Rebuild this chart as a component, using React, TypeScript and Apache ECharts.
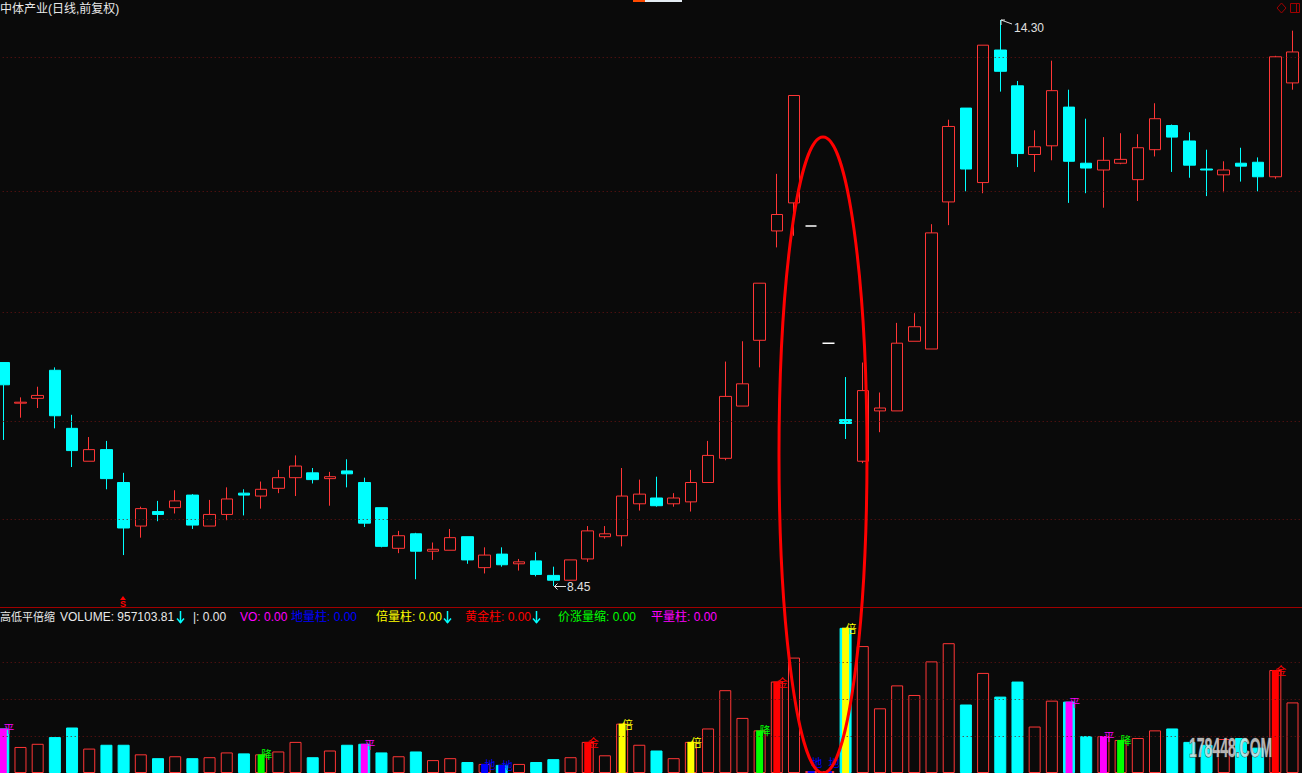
import React, { useEffect, useRef } from "react";
import * as echarts from "echarts";

const opens = [10.76,10.34,10.39,10.68,10.08,9.74,9.86,9.52,9.07,9.22, 9.26,9.39,9.07,9.19,9.41,9.38,9.46,9.57,9.62,9.56, 9.64,9.52,9.26,8.84,8.99,8.81,8.82,8.96,8.64,8.78, 8.68,8.71,8.56,8.51,8.73,8.96,8.97,9.30,9.36,9.30, 9.32,9.52,9.77,10.31,10.99,12.12,12.41,12.17,10.96,10.17, 9.74,10.26,10.26,10.98,10.90,12.42,13.39,12.62,13.99,13.62, 12.91,13.00,13.40,12.82,12.75,12.82,12.65,12.96,13.21,13.05, 12.76,12.70,12.82,12.83,12.68,13.65];
const closes = [10.53,10.35,10.42,10.21,9.85,9.86,9.56,9.05,9.25,9.19, 9.33,9.08,9.19,9.35,9.39,9.45,9.57,9.69,9.55,9.58, 9.61,9.10,8.86,8.97,8.81,8.83,8.95,8.72,8.77,8.67, 8.70,8.57,8.51,8.72,9.02,8.99,9.38,9.40,9.28,9.36, 9.52,9.80,10.41,10.54,11.58,12.29,13.52,12.17,10.96,10.13, 10.47,10.29,10.96,11.13,12.10,13.20,12.76,14.04,13.77,12.92, 12.99,13.57,12.84,12.77,12.85,12.86,12.98,13.28,13.09,12.80, 12.75,12.75,12.79,12.68,13.92,13.97];
const lows = [9.96,10.19,10.29,10.08,9.68,9.74,9.45,8.77,8.95,9.12, 9.20,9.04,9.07,9.13,9.18,9.25,9.41,9.38,9.51,9.28, 9.47,9.06,8.85,8.79,8.52,8.72,8.82,8.68,8.58,8.65, 8.61,8.55,8.45,8.51,8.70,8.94,8.86,9.23,9.27,9.27, 9.22,9.52,9.75,10.31,10.71,11.95,12.07,12.17,10.96,9.97, 9.72,10.04,10.26,10.98,10.90,12.18,12.53,12.51,13.56,12.78, 12.73,12.85,12.41,12.51,12.36,12.81,12.43,12.89,12.73,12.67, 12.48,12.52,12.63,12.53,12.66,13.58];
const highs = [10.76,10.40,10.51,10.71,10.22,9.99,9.95,9.62,9.27,9.33, 9.44,9.40,9.34,9.47,9.45,9.53,9.65,9.80,9.67,9.63, 9.76,9.57,9.26,9.02,9.00,8.90,9.04,8.96,8.85,8.85, 8.73,8.80,8.65,8.72,9.07,9.07,9.67,9.55,9.58,9.41, 9.65,9.95,10.77,10.98,11.58,12.71,13.52,12.17,10.96,10.61, 10.76,10.45,11.17,11.27,12.19,13.27,13.39,14.04,14.30,13.67, 13.16,13.88,13.58,13.28,13.09,13.13,13.12,13.44,13.22,13.14, 12.96,12.84,12.98,12.88,13.93,14.19];
const volumes = [604000,353000,396000,487000,617000,331000,383000,383000,253000,201000, 227000,201000,214000,279000,266000,253000,292000,422000,214000,305000, 383000,396000,279000,227000,292000,175000,201000,149000,123000,110000, 123000,149000,188000,214000,422000,240000,669000,383000,305000,201000, 422000,604000,1123000,747000,578000,1240000,1565000,26000,26000,1968000, 1721000,877000,1188000,1058000,1513000,1760000,929000,1357000,1036000,1240000, 630000,981000,968000,500000,500000,448000,474000,578000,604000,422000, 383000,461000,474000,344000,1396000,957103.81];
const flatDays = [47, 48];
const signalIdx = [0,15,21,28,29,34,36,40,44,45,47,48,49,62,64,65,74];
const signalType = ["平","降","平","地","地","金","倍","倍","降","金","地","地","倍","平","平","降","金"];
const priceGrid = [9.14, 10.15, 11.28, 12.53, 13.92];
const volumeGrid = [500000, 1000000, 1500000];
const days = opens.map((_, i) => "D" + (i + 1));

const signalColor: Record<string, string> = {
  "平": "#ff00ff", "降": "#00ff00", "地": "#0000ff", "金": "#ff0000", "倍": "#ffff00",
};

const FONT = '"Liberation Sans", "Noto Sans CJK SC", sans-serif';
const UP = "#ff3636";
const DOWN = "#00ffff";
const BG = "#0a0a0a";
const OFF = 6; // chart div is shifted left by this many pixels

function txt(x: number, y: number, text: string, fill: string, size = 12, extra: any = {}) {
  return {
    type: "text", x, y, z: 50,
    style: { text, fill, font: `${size}px ${FONT}`, textAlign: "left", align: "left", textVerticalAlign: "middle", verticalAlign: "middle", ...extra },
  };
}

function downArrow(x: number, color: string) {
  return [
    { type: "line", z: 50, shape: { x1: x, y1: 611, x2: x, y2: 623 }, style: { stroke: color, lineWidth: 1.5 } },
    { type: "polyline", z: 50, shape: { points: [[x - 3.5, 618.5], [x, 622.5], [x + 3.5, 618.5]] }, style: { fill: "none", stroke: color, lineWidth: 1.5 } },
  ];
}

export default function App() {
  const ref = useRef<HTMLDivElement>(null);
  useEffect(() => {
    const chart = echarts.init(ref.current!, null, { renderer: "svg" });
    const candleData = opens.map((o, i) => {
      const item: any = { value: [o, closes[i], lows[i], highs[i]] };
      if (flatDays.includes(i)) {
        item.itemStyle = { color: "#ffffff", color0: "#ffffff", borderColor: "#ffffff", borderColor0: "#ffffff", borderWidth: 1.5 };
      }
      return item;
    });
    const volData = volumes.map((v, i) => {
      const up = closes[i] >= opens[i];
      return {
        value: v,
        itemStyle: up
          ? { color: BG, borderColor: UP, borderWidth: 1 }
          : { color: DOWN, borderColor: DOWN, borderWidth: 1 },
      };
    });
    const sigData: any[] = volumes.map(() => "-");
    signalIdx.forEach((idx, k) => {
      const t = signalType[k];
      const c = signalColor[t];
      const tiny = volumes[idx] < 60000;
      sigData[idx] = {
        value: volumes[idx],
        itemStyle: { color: c },
        label: {
          show: true, formatter: t, color: c, fontSize: 11, fontFamily: '"Noto Sans CJK SC", sans-serif',
          position: [3.5, tiny ? -9 : 0], align: "left", verticalAlign: "middle",
        },
      };
    });

    const dotted = { color: "#6a1414", type: [1, 3], width: 1 };

    const gLeft = -5.3 + OFF;
    const option: any = {
      animation: false,
      backgroundColor: BG,
      grid: [
        { left: gLeft, width: 1306.4, top: 0, height: 608 },
        { left: gLeft, width: 1306.4, top: 625.5, height: 154 },
      ],
      xAxis: [
        { type: "category", gridIndex: 0, data: days, show: false },
        { type: "category", gridIndex: 1, data: days, show: false },
        { type: "category", gridIndex: 1, data: days, show: false },
      ],
      yAxis: [
        { type: "value", gridIndex: 0, min: 8.223, max: 14.507, show: false },
        { type: "value", gridIndex: 1, min: 0, max: 2000000, show: false },
      ],
      series: [
        {
          type: "candlestick", xAxisIndex: 0, yAxisIndex: 0, barWidth: 12, data: candleData,
          itemStyle: { color: BG, color0: DOWN, borderColor: UP, borderColor0: DOWN, borderWidth: 1 },
          markLine: {
            silent: true, symbol: ["none", "none"], label: { show: false }, lineStyle: dotted,
            data: priceGrid.map((v) => ({ yAxis: v })),
          },
        },
        {
          type: "bar", xAxisIndex: 1, yAxisIndex: 1, barWidth: 12, data: volData,
          markLine: {
            silent: true, symbol: ["none", "none"], label: { show: false }, lineStyle: dotted,
            data: volumeGrid.map((v) => ({ yAxis: v })),
          },
        },
        { type: "bar", xAxisIndex: 2, yAxisIndex: 1, barWidth: 7, data: sigData, z: 3 },
      ],
      graphic: {
        elements: [
          {
            type: "group", x: OFF, y: 0,
            children: [
              txt(0, 9, "中体产业(日线,前复权)", "#e8e8e8", 12),
              { type: "rect", z: 50, shape: { x: 642, y: -1, width: 40, height: 3 }, style: { fill: "#e4ebf2" } },
              { type: "rect", z: 50, shape: { x: 633, y: -1, width: 12, height: 3 }, style: { fill: "#ff4a00" } },
              { type: "polygon", z: 50, shape: { points: [[1281.5, 3], [1286, 8], [1281.5, 13], [1277, 8]] }, style: { fill: "none", stroke: "#a00000", lineWidth: 1 } },
              { type: "rect", z: 50, shape: { x: 1290.5, y: 3.5, width: 9, height: 9 }, style: { fill: "none", stroke: "#a00000", lineWidth: 1 } },
              { type: "line", z: 50, shape: { x1: 1296.5, y1: 3.5, x2: 1296.5, y2: 12.5 }, style: { stroke: "#a00000", lineWidth: 1 } },
              // high annotation
              { type: "polyline", z: 50, shape: { points: [[1001, 25], [1001, 20], [1005, 20]] }, style: { fill: "none", stroke: "#e0e0e0", lineWidth: 1 } },
              { type: "line", z: 50, shape: { x1: 1001, y1: 20, x2: 1012, y2: 24 }, style: { stroke: "#e0e0e0", lineWidth: 1 } },
              txt(1014, 28, "14.30", "#e0e0e0", 12),
              // low annotation
              { type: "line", z: 50, shape: { x1: 554, y1: 586.5, x2: 566, y2: 586.5 }, style: { stroke: "#e0e0e0", lineWidth: 1 } },
              { type: "polyline", z: 50, shape: { points: [[557.5, 583.5], [554.5, 586.5], [557.5, 589.5]] }, style: { fill: "none", stroke: "#e0e0e0", lineWidth: 1 } },
              txt(567, 587, "8.45", "#e0e0e0", 12),
              // S signal
              { type: "polygon", z: 50, shape: { points: [[123, 596], [120, 600], [126, 600]] }, style: { fill: "#ff0000" } },
              { type: "text", x: 123, y: 603.5, z: 50, style: { text: "S", fill: "#ff0000", font: `bold 9px ${FONT}`, textAlign: "center", align: "center", textVerticalAlign: "middle", verticalAlign: "middle" } },
              // separator
              { type: "line", z: 40, shape: { x1: -OFF, y1: 607.5, x2: 1302, y2: 607.5 }, style: { stroke: "#a00000", lineWidth: 1 } },
              // indicator legend
              txt(0, 617, "高低平倍缩", "#e8e8e8", 11),
              txt(60, 617, "VOLUME: 957103.81", "#e8e8e8", 12),
              ...downArrow(180.5, "#00ffff"),
              txt(193, 617, "|: 0.00", "#e8e8e8", 12),
              txt(240, 617, "VO: 0.00", "#ff00ff", 12),
              txt(291, 617, "地量柱: 0.00", "#0000ff", 12),
              txt(376, 617, "倍量柱: 0.00", "#ffff00", 12),
              ...downArrow(447.5, "#00ffff"),
              txt(465, 617, "黄金柱: 0.00", "#ff0000", 12),
              ...downArrow(536.5, "#00ffff"),
              txt(558, 617, "价涨量缩: 0.00", "#00ff00", 12),
              txt(651, 617, "平量柱: 0.00", "#ff00ff", 12),
              // highlight ellipse
              { type: "ellipse", z: 100, shape: { cx: 823, cy: 455, rx: 44, ry: 318 }, style: { fill: "none", stroke: "#ff0000", lineWidth: 3 } },
              // watermark
              {
                type: "text", x: 1189, y: 748, z: 60, scaleX: 0.5,
                style: { text: "178448.COM", fill: "rgba(225,225,225,0.8)", stroke: "rgba(60,60,60,0.9)", lineWidth: 1, font: `bold 28px ${FONT}`, textAlign: "left", align: "left", textVerticalAlign: "middle", verticalAlign: "middle" },
              },
            ],
          },
        ],
      },
    };
    chart.setOption(option);
    return () => chart.dispose();
  }, []);
  return (
    <div
      ref={ref}
      style={{ position: "fixed", left: -OFF, top: 0, width: 1302 + OFF, height: 773, background: BG }}
    />
  );
}
